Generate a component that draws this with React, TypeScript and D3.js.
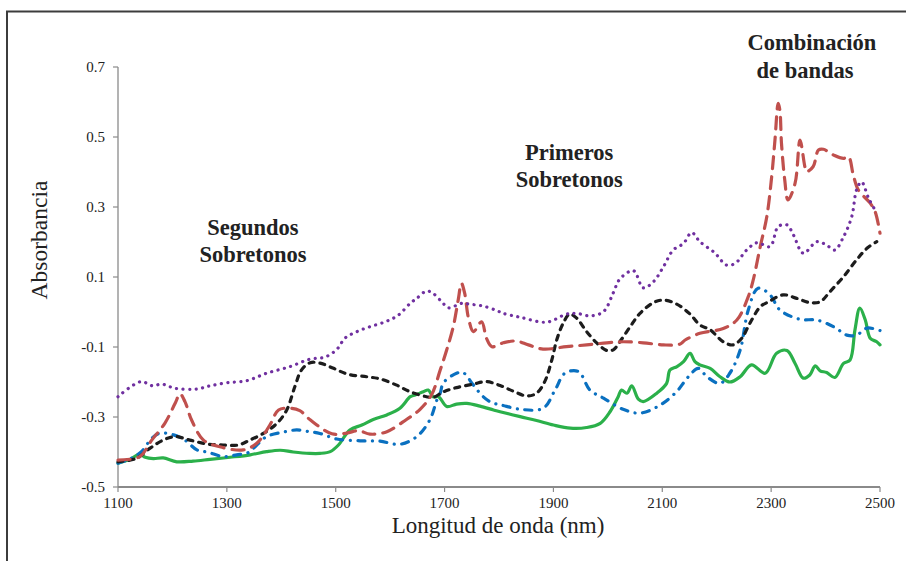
import React from "react";
import * as d3 from "d3";

// Wavelength (nm) / absorbance pairs
const purpleSeries: [number, number][] = [
  [1100, -0.242], [1142, -0.199], [1164, -0.211], [1180, -0.206], [1205, -0.218], [1245, -0.22],
  [1269, -0.211], [1300, -0.202], [1337, -0.196], [1373, -0.175], [1416, -0.156], [1452, -0.135],
  [1480, -0.129], [1502, -0.107], [1517, -0.075], [1539, -0.056], [1563, -0.042], [1591, -0.028],
  [1615, -0.009], [1637, 0.025], [1649, 0.039], [1667, 0.06], [1679, 0.053], [1695, 0.029],
  [1707, 0.012], [1732, 0.025], [1747, 0.022], [1771, 0.017], [1796, 0.004], [1808, -0.004],
  [1839, -0.015], [1888, -0.029], [1924, -0.006], [1943, -0.004], [1967, -0.011], [1992, 0.001],
  [2010, 0.055], [2022, 0.094], [2047, 0.118], [2065, 0.069], [2084, 0.087], [2102, 0.129],
  [2120, 0.177], [2139, 0.196], [2154, 0.227], [2169, 0.201], [2197, 0.168], [2218, 0.134],
  [2234, 0.139], [2255, 0.177], [2274, 0.198], [2298, 0.187], [2313, 0.244], [2329, 0.249],
  [2341, 0.22], [2359, 0.168], [2384, 0.201], [2402, 0.191], [2417, 0.177], [2433, 0.215],
  [2448, 0.272], [2457, 0.349], [2466, 0.372], [2479, 0.325], [2491, 0.291],
];

const redSeries: [number, number][] = [
  [1100, -0.423], [1140, -0.413], [1162, -0.366], [1186, -0.318], [1205, -0.261], [1214, -0.234],
  [1223, -0.256], [1235, -0.308], [1257, -0.366], [1287, -0.385], [1330, -0.394], [1355, -0.375],
  [1379, -0.323], [1395, -0.28], [1416, -0.275], [1434, -0.282], [1453, -0.308], [1493, -0.348],
  [1520, -0.346], [1542, -0.339], [1563, -0.349], [1594, -0.342], [1630, -0.307], [1655, -0.278],
  [1676, -0.237], [1692, -0.166], [1704, -0.108], [1716, -0.042], [1725, 0.034], [1731, 0.082],
  [1737, 0.053], [1744, -0.018], [1753, -0.056], [1768, -0.028], [1777, -0.075], [1787, -0.099],
  [1808, -0.088], [1832, -0.083], [1854, -0.094], [1881, -0.106], [1924, -0.099], [1961, -0.094],
  [1998, -0.088], [2028, -0.085], [2065, -0.088], [2102, -0.094], [2132, -0.092], [2142, -0.08],
  [2169, -0.061], [2212, -0.047], [2237, -0.023], [2258, 0.044], [2267, 0.091], [2280, 0.187],
  [2292, 0.272], [2301, 0.387], [2307, 0.491], [2313, 0.596], [2316, 0.577], [2319, 0.482],
  [2325, 0.377], [2331, 0.32], [2344, 0.368], [2353, 0.491], [2362, 0.415], [2365, 0.401],
  [2377, 0.415], [2387, 0.463], [2396, 0.465], [2414, 0.449], [2433, 0.439], [2442, 0.444],
  [2451, 0.391], [2460, 0.349], [2482, 0.311], [2491, 0.287], [2500, 0.225],
];

const blackSeries: [number, number][] = [
  [1100, -0.428], [1134, -0.418], [1159, -0.389], [1183, -0.366], [1205, -0.356], [1232, -0.366],
  [1263, -0.377], [1293, -0.38], [1321, -0.38], [1342, -0.366], [1367, -0.347], [1392, -0.318],
  [1410, -0.28], [1425, -0.213], [1437, -0.166], [1453, -0.145], [1471, -0.146], [1496, -0.161],
  [1523, -0.178], [1557, -0.185], [1581, -0.191], [1612, -0.209], [1637, -0.228], [1667, -0.242],
  [1679, -0.244], [1698, -0.228], [1722, -0.216], [1753, -0.206], [1777, -0.199], [1802, -0.21],
  [1826, -0.226], [1851, -0.24], [1869, -0.232], [1884, -0.199], [1897, -0.137], [1906, -0.08],
  [1918, -0.032], [1930, -0.006], [1943, -0.018], [1961, -0.056], [1980, -0.089], [1998, -0.11],
  [2010, -0.108], [2022, -0.085], [2041, -0.042], [2059, -0.004], [2084, 0.027], [2102, 0.034],
  [2126, 0.023], [2151, -0.006], [2169, -0.037], [2188, -0.051], [2212, -0.085], [2230, -0.094],
  [2246, -0.075], [2261, -0.032], [2280, 0.015], [2295, 0.029], [2322, 0.049], [2347, 0.039],
  [2371, 0.027], [2390, 0.029], [2408, 0.058], [2433, 0.101], [2457, 0.149], [2476, 0.182],
  [2494, 0.201],
];

const blueSeries: [number, number][] = [
  [1100, -0.432], [1122, -0.42], [1143, -0.399], [1162, -0.361], [1177, -0.346], [1202, -0.351],
  [1223, -0.366], [1245, -0.394], [1266, -0.401], [1293, -0.413], [1318, -0.408], [1339, -0.402],
  [1355, -0.38], [1373, -0.356], [1401, -0.344], [1428, -0.337], [1452, -0.342], [1471, -0.347],
  [1502, -0.363], [1545, -0.368], [1581, -0.369], [1618, -0.378], [1649, -0.356], [1673, -0.308],
  [1686, -0.251], [1692, -0.232], [1698, -0.202], [1722, -0.175], [1734, -0.173], [1753, -0.209],
  [1771, -0.242], [1787, -0.259], [1805, -0.266], [1839, -0.278], [1881, -0.275], [1903, -0.223],
  [1921, -0.175], [1946, -0.17], [1967, -0.223], [1992, -0.246], [2028, -0.278], [2059, -0.289],
  [2096, -0.266], [2126, -0.228], [2148, -0.185], [2166, -0.161], [2182, -0.185], [2206, -0.204],
  [2224, -0.175], [2243, -0.109], [2258, 0.006], [2276, 0.068], [2298, 0.049], [2316, 0.006],
  [2353, -0.021], [2384, -0.023], [2417, -0.044], [2439, -0.066], [2457, -0.066], [2476, -0.046],
  [2500, -0.053],
];

const greenSeries: [number, number][] = [
  [1100, -0.432], [1122, -0.421], [1140, -0.406], [1150, -0.415], [1165, -0.419], [1183, -0.417],
  [1208, -0.428], [1238, -0.426], [1269, -0.421], [1306, -0.415], [1343, -0.408], [1373, -0.399],
  [1398, -0.395], [1422, -0.4], [1452, -0.404], [1471, -0.404], [1490, -0.399], [1505, -0.38],
  [1526, -0.337], [1548, -0.323], [1569, -0.307], [1594, -0.294], [1618, -0.275], [1637, -0.242],
  [1646, -0.237], [1661, -0.228], [1670, -0.223], [1679, -0.242], [1689, -0.242], [1704, -0.27],
  [1722, -0.263], [1741, -0.261], [1765, -0.269], [1790, -0.28], [1802, -0.285], [1839, -0.299],
  [1869, -0.31], [1900, -0.323], [1931, -0.332], [1961, -0.33], [1986, -0.318], [2004, -0.285],
  [2019, -0.242], [2025, -0.223], [2035, -0.232], [2044, -0.211], [2056, -0.249], [2065, -0.256],
  [2090, -0.232], [2108, -0.204], [2114, -0.166], [2127, -0.156], [2139, -0.142], [2151, -0.118],
  [2160, -0.142], [2169, -0.151], [2188, -0.161], [2206, -0.185], [2224, -0.2], [2243, -0.185],
  [2264, -0.151], [2289, -0.175], [2310, -0.118], [2329, -0.11], [2344, -0.147], [2359, -0.189],
  [2371, -0.18], [2381, -0.154], [2390, -0.168], [2402, -0.173], [2417, -0.187], [2433, -0.147],
  [2445, -0.137], [2454, -0.051], [2463, 0.011], [2473, -0.023], [2482, -0.075], [2494, -0.085],
  [2500, -0.094],
];

const xTicks = [1100, 1300, 1500, 1700, 1900, 2100, 2300, 2500];
const yTicks = [-0.5, -0.3, -0.1, 0.1, 0.3, 0.5, 0.7];
const xTitle = "Longitud de onda (nm)";
const yTitle = "Absorbancia";
const annotations: { lines: string[]; x: number; y: number }[] = [
  { lines: ["Segundos", "Sobretonos"], x: 1348, y: 0.22 },
  { lines: ["Primeros", "Sobretonos"], x: 1929, y: 0.434 },
];

const W = 906;
const H = 561;
const left = 118;
const right = 880;
const top = 67;
const bottom = 487;

const serif = "'Liberation Serif', 'Times New Roman', serif";

export default function App() {
  const x = d3.scaleLinear().domain([1100, 2500]).range([left, right]);
  const y = d3.scaleLinear().domain([-0.5, 0.7]).range([bottom, top]);
  const line = d3
    .line<[number, number]>()
    .x((d) => x(d[0]))
    .y((d) => y(d[1]))
    .curve(d3.curveCatmullRom.alpha(0.5));

  const axisColor = "#8a8a8a";
  const series = [
    { data: greenSeries, color: "#2bb04a", dash: undefined as string | undefined },
    { data: blueSeries, color: "#0a70c0", dash: "7 7.5 0.1 7.5" },
    { data: blackSeries, color: "#1c1c1c", dash: "5 6" },
    { data: redSeries, color: "#c0504d", dash: "12 8" },
    { data: purpleSeries, color: "#7030a0", dash: "0.1 6.4" },
  ];

  return (
    <svg
      width={W}
      height={H}
      style={{ position: "absolute", left: 0, top: 0, background: "#fff" }}
      fontFamily={serif}
    >
      <rect x={0} y={0} width={W} height={H} fill="#fff" />
      {/* outer frame */}
      <path d={`M7,${H + 5} V11.5 H${W + 5}`} fill="none" stroke="#3c3c3c" strokeWidth={2} />

      {/* axes */}
      <line x1={left} x2={left} y1={top} y2={bottom} stroke={axisColor} strokeWidth={1.3} />
      <line x1={left} x2={right} y1={bottom} y2={bottom} stroke={axisColor} strokeWidth={2} />
      {yTicks.map((t) => (
        <g key={"y" + t}>
          <line x1={left - 5} x2={left} y1={y(t)} y2={y(t)} stroke={axisColor} strokeWidth={1.2} />
          <text x={left - 13} y={y(t) + 5} textAnchor="end" fontSize={15} fill="#222">
            {t.toFixed(1)}
          </text>
        </g>
      ))}
      {xTicks.map((t) => (
        <g key={"x" + t}>
          <line x1={x(t)} x2={x(t)} y1={bottom} y2={bottom + 5} stroke={axisColor} strokeWidth={1.2} />
          <text x={x(t)} y={bottom + 21} textAnchor="middle" fontSize={15} fill="#222">
            {t}
          </text>
        </g>
      ))}
      <text x={(left + right) / 2 - 1} y={533} textAnchor="middle" fontSize={23} fill="#222">
        {xTitle}
      </text>
      <text
        transform={`translate(47, 240) rotate(-90)`}
        textAnchor="middle"
        fontSize={23.5}
        fill="#222"
      >
        {yTitle}
      </text>

      {/* series */}
      {series.map((s, i) => (
        <path
          key={i}
          d={line(s.data) || ""}
          fill="none"
          stroke={s.color}
          strokeWidth={3.2}
          strokeDasharray={s.dash}
          strokeLinecap="round"
          strokeLinejoin="round"
        />
      ))}

      {/* annotations */}
      {annotations.map((a, i) => (
        <text
          key={i}
          x={x(a.x)}
          y={y(a.y)}
          textAnchor="middle"
          fontSize={22.5}
          fontWeight="bold"
          fill="#222"
        >
          {a.lines.map((l, j) => (
            <tspan key={j} x={x(a.x)} dy={j === 0 ? 0 : 27}>
              {l}
            </tspan>
          ))}
        </text>
      ))}
      <text x={812} y={50} textAnchor="middle" fontSize={22.5} fontWeight="bold" fill="#222">
        Combinación
      </text>
      <text x={805} y={78} textAnchor="middle" fontSize={22.5} fontWeight="bold" fill="#222">
        de bandas
      </text>
    </svg>
  );
}
